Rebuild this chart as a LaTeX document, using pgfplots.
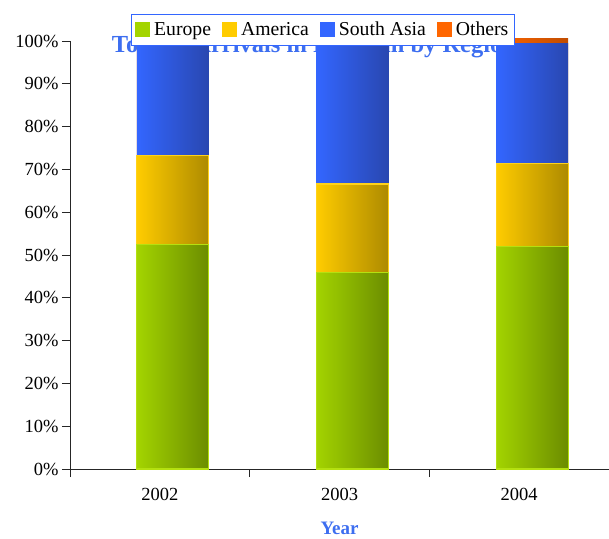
\documentclass[border=0pt]{standalone}
\usepackage{pgfplots}
\usepackage{pgfplotstable}
\pgfplotsset{compat=1.18}
\usepackage{fontspec}
\setmainfont{Liberation Serif}

\definecolor{euroA}{HTML}{A3D400}
\definecolor{euroB}{HTML}{6B8C00}
\definecolor{euroE}{HTML}{B4E010}
\definecolor{ameA}{HTML}{FFCC00}
\definecolor{ameB}{HTML}{AD8A00}
\definecolor{ameE}{HTML}{FFD21A}
\definecolor{saA}{HTML}{3366FF}
\definecolor{saB}{HTML}{2947B0}
\definecolor{othA}{HTML}{FF6600}
\definecolor{othB}{HTML}{C04C00}
\definecolor{ttl}{HTML}{3D6EF0}
\definecolor{lgd}{HTML}{3366FF}

% top of each stacked segment (cumulative %), x = 0,1,2 for 2002..2004
\pgfplotstableread{
year europe america southasia others
0    52.4   73.3    99.7      100.0
1    46.0   66.6    99.7      100.0
2    52.0   71.3    99.3      100.5
}\arrivals

\begin{document}
\begin{tikzpicture}[font=\fontsize{18.5}{22}\selectfont]
\useasboundingbox (-70pt,-69pt) rectangle (539pt,469pt);
% title sits behind the legend, as in the original
\node[anchor=base, text=ttl, font=\fontsize{24.5}{28}\selectfont\bfseries]
  at (244pt,416pt) {Tourist Arrivals in Pakistan by Region};
\begin{axis}[
    scale only axis,
    width=539pt, height=428pt,
    xmin=-0.5, xmax=2.5,
    ymin=0, ymax=100,
    clip=false,
    axis x line=bottom, axis y line=left,
    axis line style={-, line width=0.8pt, black!85},
    tick align=outside,
    major tick length=8pt,
    tick style={line width=0.8pt, black!85},
    xtick={-0.5,0.5,1.5,2.5},
    x tick label as interval,
    xticklabels={2002,2003,2004},
    x tick label style={yshift=-8pt},
    ytick={0,10,...,100},
    yticklabel={\pgfmathprintnumber{\tick}\%},
    /pgf/number format/assume math mode=true,
    xlabel={Year},
    xlabel style={at={(axis description cs:0.5,0)}, anchor=base, yshift=-65pt,
        text=ttl, font=\fontsize{19}{22}\selectfont\bfseries},
    cyl/.style={ybar, bar width=72pt, bar shift=13pt, forget plot,
        x filter/.expression={abs(x-#1)<0.01 ? x : nan}},
    patch/.style={legend image code/.code={
        \fill[fill=#1, draw=none] (0pt,-7pt) rectangle (15pt,8pt);
        \path[draw=none, fill=none] (0pt,0pt) -- (17pt,0pt);}},
    legend columns=4,
    legend style={at={(0.469,1.026)}, anchor=center, draw=lgd, line width=0.8pt,
        fill=white, inner xsep=4pt, inner ysep=6pt,
        /tikz/every even column/.style={column sep=9pt},
        font=\fontsize{19.7}{22}\selectfont},
]
\addlegendimage{patch=euroA}
\addlegendentry{Europe}
\addlegendimage{patch=ameA}
\addlegendentry{America}
\addlegendimage{patch=saA}
\addlegendentry{South Asia}
\addlegendimage{patch=othA}
\addlegendentry{Others}

% one bar per year and region, painted from the top segment down
\pgfplotsinvokeforeach{0,1,2}{
  \addplot[cyl=#1, draw=none, left color=othA, right color=othB]
    table[x=year, y=others] {\arrivals};
  \addplot[cyl=#1, draw=none, left color=saA, right color=saB]
    table[x=year, y=southasia] {\arrivals};
  \addplot[cyl=#1, draw=ameE, line width=1.2pt, left color=ameA, right color=ameB]
    table[x=year, y=america] {\arrivals};
  \addplot[cyl=#1, draw=euroE, line width=1.2pt, left color=euroA, right color=euroB]
    table[x=year, y=europe] {\arrivals};
}
\end{axis}
\end{tikzpicture}
\end{document}
